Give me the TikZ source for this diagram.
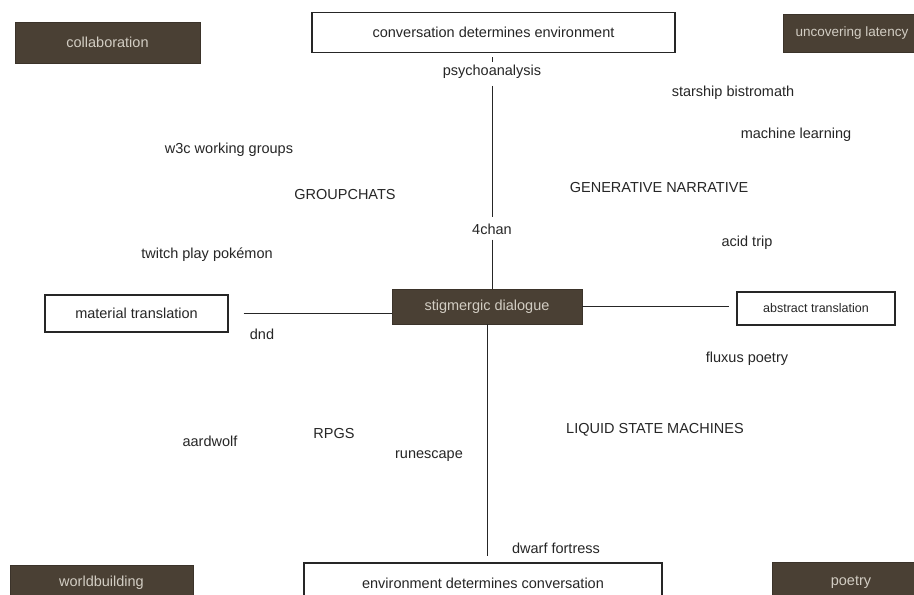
\documentclass[tikz,border=0pt]{standalone}
\usepackage{fontspec}
\setmainfont{Liberation Sans}
\usepackage{xcolor}
\usepackage{tikz}
\definecolor{boxbrown}{HTML}{4A4034}
\definecolor{boxtext}{HTML}{D2CDC3}
\definecolor{ink}{HTML}{262626}
\tikzset{
    tnode/.style = {align=center, inner sep=0pt, text centered, text=ink, font=\fontsize{14.5}{17}\selectfont},
    dark_box/.style = {tnode, rectangle, fill=boxbrown, draw=boxbrown!80!black, text=boxtext, thin},
    light_box/.style = {tnode, rectangle, fill=white, draw=ink, line width=1.1pt},
    tag/.style = {tnode},
    axis/.style = {draw=ink, line width=1pt}
}

\begin{document}
\begin{tikzpicture}[x=1pt, y=-1pt]
    \useasboundingbox [fill=white] (0,0) rectangle (914,595);
    \node [dark_box, minimum width=185pt, minimum height=41pt] (collab) at (107.5,42.5) {collaboration};
    \node [dark_box, minimum width=138pt, minimum height=38pt, font=\fontsize{13.5}{16}\selectfont] (latency) at (852,33) {uncovering latency};
    \node [dark_box, minimum width=183pt, minimum height=36pt] (worldb) at (101.5,583) {worldbuilding};
    \node [dark_box, minimum width=158pt, minimum height=40pt] (poetry) at (851,582) {poetry};
    \node [dark_box, minimum width=190pt, minimum height=35pt] (stig) at (487,306.5) {stigmergic dialogue};

    \node [light_box, minimum width=363pt, minimum height=40pt] (conv_env) at (493.5,32.5) {conversation determines environment};
    \node [light_box, minimum width=358pt, minimum height=40pt] (env_conv) at (483,583) {environment determines conversation};
    \node [light_box, minimum width=183pt, minimum height=37pt] (mat) at (136.5,313.5) {material translation};
    \node [light_box, minimum width=158pt, minimum height=33pt, font=\fontsize{12.5}{15}\selectfont] (abs) at (816,308.5) {abstract translation};

    \node [tag] (psycho) at (492,72) {psychoanalysis};
    \node [tag] (chan) at (492,229) {4chan};
    \node [tag] (starship) at (733,93) {starship bistromath};
    \node [tag] (mlearn) at (796,135) {machine learning};
    \node [tag] (w3c) at (229,150) {w3c working groups};
    \node [tag] (groupchats) at (345,195) {GROUPCHATS};
    \node [tag] (gen_narr) at (659,188) {GENERATIVE NARRATIVE};
    \node [tag] (twitch) at (207,255) {twitch play pokémon};
    \node [tag] (acid) at (747,243) {acid trip};
    \node [tag] (dnd) at (262,334) {dnd};
    \node [tag] (fluxus) at (747,359) {fluxus poetry};
    \node [tag] (aardwolf) at (210,441) {aardwolf};
    \node [tag] (rpgs) at (334,434) {RPGS};
    \node [tag] (runescape) at (429,456) {runescape};
    \node [tag] (lsm) at (655,430) {LIQUID STATE MACHINES};
    \node [tag] (dwarf) at (556,548) {dwarf fortress};

    \draw [axis, shorten <=4pt, shorten >=3pt] (psycho.north |- conv_env.south) -- (psycho.north);
    \draw [axis, shorten <=7pt, shorten >=6pt] (psycho.south) -- (chan.north);
    \draw [axis, shorten <=5pt] (chan.south) -- (chan.south |- stig.north);
    \draw [axis, shorten >=6pt] (stig.south) -- (stig.south |- env_conv.north);
    \draw [axis, shorten <=15pt] (mat.east) -- (mat.east -| stig.west);
    \draw [axis, shorten >=7pt] (stig.east) -- (stig.east -| abs.west);
\end{tikzpicture}
\end{document}
